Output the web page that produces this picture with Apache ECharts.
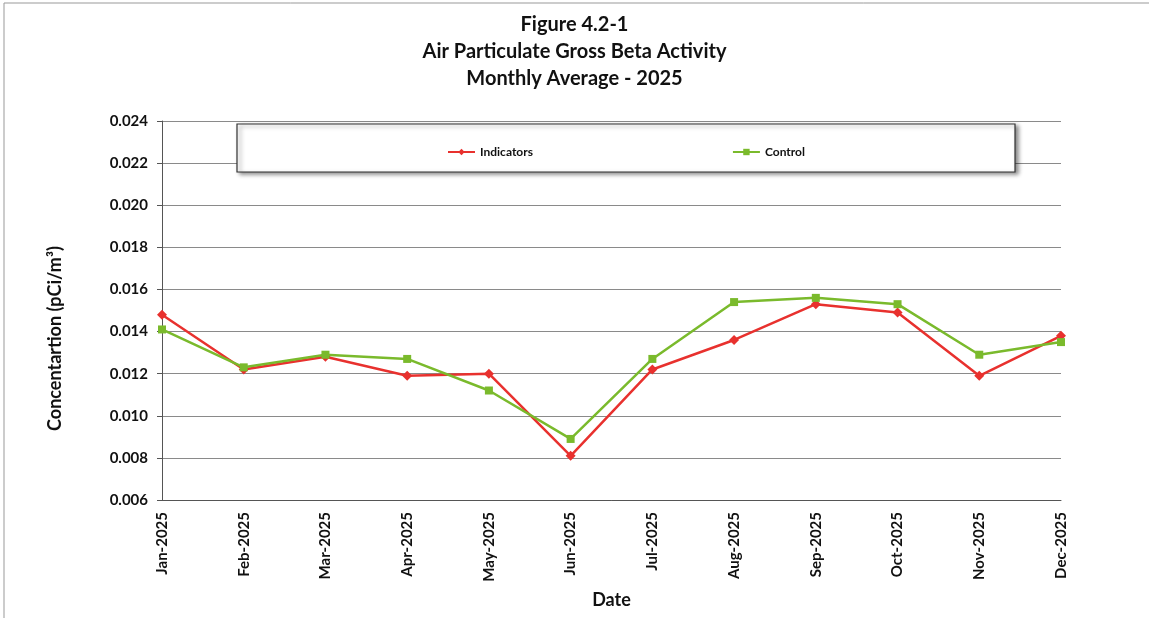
<!DOCTYPE html>
<html>
<head>
<meta charset="utf-8">
<script src="https://cdn.jsdelivr.net/npm/echarts@6/dist/echarts.min.js"></script>
<style>
html,body{margin:0;padding:0;background:#fff;}
#main{width:1149px;height:618px;}
</style>
</head>
<body>
<div id="main"></div>
<script>
var months = ['Jan-2025','Feb-2025','Mar-2025','Apr-2025','May-2025','Jun-2025','Jul-2025','Aug-2025','Sep-2025','Oct-2025','Nov-2025','Dec-2025'];
var indicators = [0.0148,0.0122,0.0128,0.0119,0.0120,0.0081,0.0122,0.0136,0.0153,0.0149,0.0119,0.0138];
var control = [0.0141,0.0123,0.0129,0.0127,0.0112,0.0089,0.0127,0.0154,0.0156,0.0153,0.0129,0.0135];
var yTicks = {min:0.006, max:0.024, step:0.002};

var font = 'Lato, "Open Sans", sans-serif';
var myChart = echarts.init(document.getElementById('main'));
myChart.setOption({
    backgroundColor:'#fff',
    animation:false,
    title:{
        text:'Figure 4.2-1\nAir Particulate Gross Beta Activity\nMonthly Average - 2025',
        left:'center',
        top:6,
        textStyle:{fontFamily:font,fontSize:20,fontWeight:'bold',color:'#111',lineHeight:27}
    },
    graphic:[{
        // 外框(左、上)
        type:'rect',
        shape:{x:4,y:3,width:1300,height:800},
        style:{fill:'none',stroke:'#999',lineWidth:1},
        silent:true
    },{
        // 图例外框
        type:'rect',
        shape:{x:237,y:124,width:778,height:48},
        style:{fill:'#fff',stroke:'#333',lineWidth:1.2,shadowBlur:4,shadowColor:'rgba(0,0,0,0.45)',shadowOffsetX:3,shadowOffsetY:2},
        z:10
    }],
    legend:{
        data:['Indicators','Control'],
        top:141,
        left:442,
        itemGap:199,
        itemWidth:27,
        itemHeight:8,
        z:20,
        textStyle:{fontFamily:font,fontSize:12,fontWeight:'bold',color:'#111'}
    },
    grid:{left:162,right:88,top:121,bottom:118},
    xAxis:{
        type:'category',
        data:months,
        boundaryGap:false,
        name:'Date',
        nameLocation:'middle',
        nameGap:91,
        nameTextStyle:{fontFamily:font,fontSize:18,fontWeight:'bold',color:'#111'},
        axisLine:{lineStyle:{color:'#555',width:1}},
        axisTick:{show:false},
        axisLabel:{rotate:90,fontFamily:font,fontSize:15,fontWeight:'bold',color:'#111',margin:12}
    },
    yAxis:{
        type:'value',
        min:yTicks.min,
        max:yTicks.max,
        interval:yTicks.step,
        name:'Concentartion (pCi/m³)',
        nameLocation:'middle',
        nameGap:98,
        nameTextStyle:{fontFamily:font,fontSize:18,fontWeight:'bold',color:'#111',padding:[0,56,0,0]},
        axisLine:{show:true,lineStyle:{color:'#555',width:1}},
        axisTick:{show:true,length:5,lineStyle:{color:'#555'}},
        axisLabel:{fontFamily:font,fontSize:15,fontWeight:'bold',color:'#111',margin:14,
            formatter:function(v){return v.toFixed(3);}},
        splitLine:{lineStyle:{color:'#8a8a8a',width:1.2}}
    },
    series:[{
        name:'Indicators',
        type:'line',
        data:indicators,
        symbol:'diamond',
        symbolSize:10,
        itemStyle:{color:'#e8312e'},
        lineStyle:{width:2.5,color:'#e8312e'},
        z:3
    },{
        name:'Control',
        type:'line',
        data:control,
        symbol:'rect',
        symbolSize:8,
        itemStyle:{color:'#7aba2c'},
        lineStyle:{width:2.5,color:'#7aba2c'},
        z:4
    }]
});
</script>
</body>
</html>
